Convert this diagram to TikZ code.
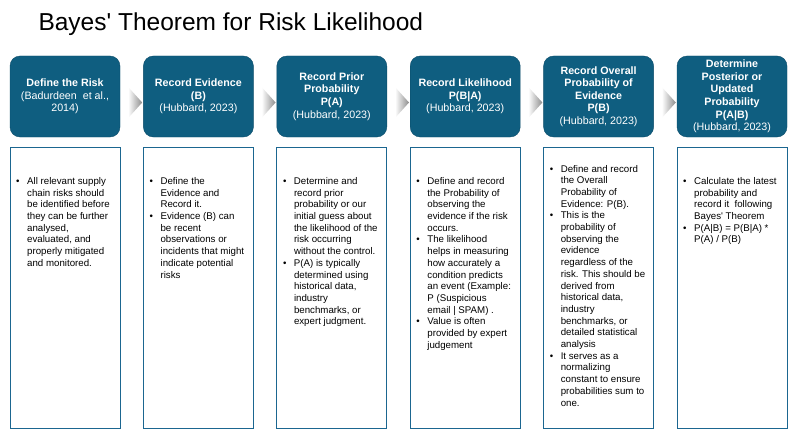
\documentclass[tikz,border=0pt]{standalone}
\usepackage{fontspec}
\setmainfont{Liberation Sans}
\usetikzlibrary{positioning,calc}

\definecolor{stepblue}{HTML}{0F5E80}
\definecolor{stepedge}{HTML}{0B4C69}
\definecolor{noteedge}{HTML}{1B6690}

\newcommand{\bitem}{\makebox[11pt][l]{\textbullet}}
\newcommand{\bcont}{\makebox[11pt]{}}

\begin{document}
\begin{tikzpicture}[
    x=1pt, y=-1pt,
    node distance=23pt,
    stepbox/.style={draw=stepedge, fill=stepblue, rounded corners=10pt, minimum height=81pt, minimum width=110pt, align=center, text=white, inner sep=0pt, font=\fontsize{10.7}{12.6}\selectfont},
    notebox/.style={draw=noteedge, line width=1pt, minimum height=281pt, minimum width=110pt, inner sep=0pt},
    notetext/.style={anchor=north west, align=left, inner sep=0pt, font=\fontsize{9.7}{11.7}\selectfont},
    chev/.pic={\shade[left color=white, right color=black!45] (-3.5,-9.5) -- (10.5,6) -- (-3.5,21.5) -- cycle;}
]
\useasboundingbox (0,0) rectangle (800,444);

% Title
\node[anchor=base west, font=\fontsize{24.5}{28}\selectfont] (title) at (35,30.7) {Bayes\textquotesingle{} Theorem for Risk Likelihood};

% Step boxes
\node[stepbox] (s1) at (65,96.5) {\textbf{Define the Risk}\\(Badurdeen\ \ et al.,\\2014)};
\node[stepbox, right=of s1] (s2) {\textbf{Record Evidence}\\\textbf{(B)}\\(Hubbard, 2023)};
\node[stepbox, right=of s2] (s3) {\textbf{Record Prior}\\\textbf{Probability}\\\textbf{P(A)}\\(Hubbard, 2023)};
\node[stepbox, right=of s3] (s4) {\textbf{Record Likelihood}\\\textbf{P(B|A)}\\(Hubbard, 2023)};
\node[stepbox, right=of s4] (s5) {\textbf{Record Overall}\\\textbf{Probability of}\\\textbf{Evidence}\\\textbf{P(B)}\\(Hubbard, 2023)};
\node[stepbox, right=of s5] (s6) {\textbf{Determine}\\\textbf{Posterior or}\\\textbf{Updated}\\\textbf{Probability}\\\textbf{P(A|B)}\\(Hubbard, 2023)};

% Chevrons
\pic at ($(s1.east)!0.5!(s2.west)$) {chev};
\pic at ($(s2.east)!0.5!(s3.west)$) {chev};
\pic at ($(s3.east)!0.5!(s4.west)$) {chev};
\pic at ($(s4.east)!0.5!(s5.west)$) {chev};
\pic at ($(s5.east)!0.5!(s6.west)$) {chev};

% Description boxes
\node[notebox, below=10pt of s1] (d1) {};
\node[notebox, below=10pt of s2] (d2) {};
\node[notebox, below=10pt of s3] (d3) {};
\node[notebox, below=10pt of s4] (d4) {};
\node[notebox, below=10pt of s5] (d5) {};
\node[notebox, below=10pt of s6] (d6) {};

% Description texts
\node[notetext] (t1) at ([xshift=6.5pt, yshift=-30pt]d1.north west) {\bitem All relevant supply\\\bcont chain risks should\\\bcont be identified before\\\bcont they can be further\\\bcont analysed,\\\bcont evaluated, and\\\bcont properly mitigated\\\bcont and monitored.};
\node[notetext] (t2) at ([xshift=6.5pt, yshift=-30pt]d2.north west) {\bitem Define the\\\bcont Evidence and\\\bcont Record it.\\\bitem Evidence (B) can\\\bcont be recent\\\bcont observations or\\\bcont incidents that might\\\bcont indicate potential\\\bcont risks};
\node[notetext] (t3) at ([xshift=6.5pt, yshift=-30pt]d3.north west) {\bitem Determine and\\\bcont record prior\\\bcont probability or our\\\bcont initial guess about\\\bcont the likelihood of the\\\bcont risk occurring\\\bcont without the control.\\\bitem P(A) is typically\\\bcont determined using\\\bcont historical data,\\\bcont industry\\\bcont benchmarks, or\\\bcont expert judgment.};
\node[notetext] (t4) at ([xshift=6.5pt, yshift=-30pt]d4.north west) {\bitem Define and record\\\bcont the Probability of\\\bcont observing the\\\bcont evidence if the risk\\\bcont occurs.\\\bitem The likelihood\\\bcont helps in measuring\\\bcont how accurately a\\\bcont condition predicts\\\bcont an event (Example:\\\bcont P (Suspicious\\\bcont email | SPAM) .\\\bitem Value is often\\\bcont provided by expert\\\bcont judgement};
\node[notetext] (t5) at ([xshift=6.5pt, yshift=-17.6pt]d5.north west) {\bitem Define and record\\\bcont the Overall\\\bcont Probability of\\\bcont Evidence: P(B).\\\bitem This is the\\\bcont probability of\\\bcont observing the\\\bcont evidence\\\bcont regardless of the\\\bcont risk. This should be\\\bcont derived from\\\bcont historical data,\\\bcont industry\\\bcont benchmarks, or\\\bcont detailed statistical\\\bcont analysis\\\bitem It serves as a\\\bcont normalizing\\\bcont constant to ensure\\\bcont probabilities sum to\\\bcont one.};
\node[notetext] (t6) at ([xshift=6.5pt, yshift=-30pt]d6.north west) {\bitem Calculate the latest\\\bcont probability and\\\bcont record it\ \ following\\\bcont Bayes\textquotesingle{} Theorem\\\bitem P(A|B) = P(B|A) *\\\bcont P(A) / P(B)};

\end{tikzpicture}
\end{document}
